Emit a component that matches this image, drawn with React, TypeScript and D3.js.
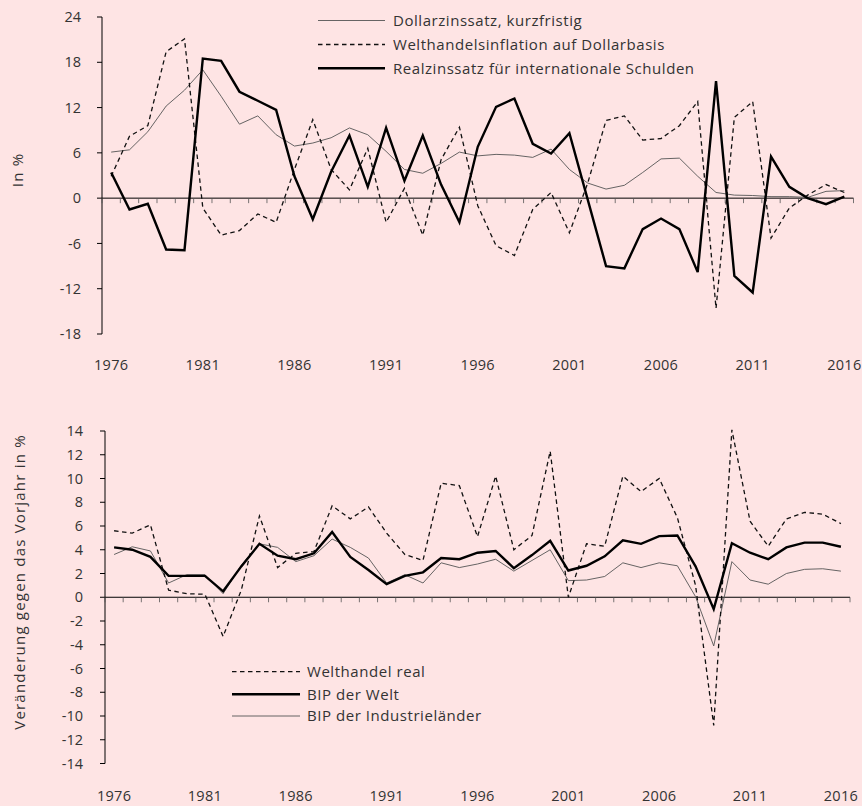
import React from "react";
import * as d3 from "d3";

const years = [1976,1977,1978,1979,1980,1981,1982,1983,1984,1985,1986,1987,1988,1989,1990,1991,1992,1993,1994,1995,1996,1997,1998,1999,2000,2001,2002,2003,2004,2005,2006,2007,2008,2009,2010,2011,2012,2013,2014,2015,2016];
const xTickYears = [1976,1981,1986,1991,1996,2001,2006,2011,2016];

const topTicks = [-18,-12,-6,0,6,12,18,24];
const bottomTicks = [-14,-12,-10,-8,-6,-4,-2,0,2,4,6,8,10,12,14];

const dollarRate = [6.1,6.4,8.8,12.2,14.3,17.0,13.5,9.8,10.9,8.4, 6.9,7.3,8.0,9.3,8.4,6.2,3.8,3.3,4.6,6.1, 5.6,5.8,5.7,5.4,6.5,3.8,2.0,1.2,1.7,3.4, 5.2,5.3,2.9,0.75,0.4,0.35,0.2,0.2,0.1,0.9,1.0];
const tradeInflation = [2.9,8.2,9.6,19.4,21.1,-1.3,-4.9,-4.3,-2.1,-3.2, 3.8,10.4,3.8,1.1,6.6,-3.2,1.3,-4.9,5.1,9.4, -1.0,-6.3,-7.6,-1.5,0.75,-4.6,2.0,10.3,10.9,7.7, 7.9,9.6,12.8,-14.6,10.7,12.8,-5.3,-1.3,0.4,1.8,0.75];
const realRate = [3.4,-1.5,-0.75,-6.8,-6.9,18.5,18.2,14.1,12.9,11.7, 2.9,-2.8,3.5,8.3,1.5,9.3,2.3,8.3,1.8,-3.2, 6.8,12.1,13.2,7.2,5.9,8.6,-0.2,-9.0,-9.3,-4.1, -2.7,-4.1,-9.8,15.5,-10.3,-12.5,5.5,1.5,0,-0.8,0.2];

const worldTrade = [5.6,5.4,6.1,0.6,0.3,0.25,-3.3,0.6,6.85,2.5, 3.7,3.85,7.7,6.6,7.6,5.4,3.6,3.1,9.6,9.4, 5.1,10.2,4.0,5.2,12.3,0.0,4.5,4.3,10.2,8.9, 10.0,6.7,1.0,-10.8,14.1,6.4,4.3,6.6,7.15,7.0,6.2];
const worldGDP = [4.2,4.0,3.4,1.8,1.8,1.8,0.5,2.6,4.5,3.5, 3.2,3.7,5.5,3.4,2.3,1.1,1.8,2.1,3.3,3.2, 3.75,3.9,2.45,3.55,4.75,2.25,2.65,3.45,4.8,4.5, 5.15,5.2,2.6,-1.0,4.55,3.75,3.2,4.2,4.6,4.6,4.25];
const advGDP = [3.6,4.25,3.9,1.2,1.9,1.9,0.3,2.7,4.5,4.2, 3.0,3.5,4.9,4.2,3.3,1.2,1.9,1.2,2.9,2.5, 2.8,3.2,2.2,3.1,4.0,1.4,1.45,1.75,2.9,2.5, 2.9,2.65,0.05,-4.1,3.0,1.45,1.1,2.0,2.35,2.4,2.2];

const topLegend = ["Dollarzinssatz, kurzfristig", "Welthandelsinflation auf Dollarbasis", "Realzinssatz für internationale Schulden"];
const bottomLegend = ["Welthandel real", "BIP der Welt", "BIP der Industrieländer"];

const FONT = "'Open Sans', Lato, sans-serif";
const TXT = "#333";

type Style = { width: number; color: string; dash?: string };
const thin: Style = { width: 0.9, color: "#555" };
const dashed: Style = { width: 1.3, color: "#111", dash: "4.5,3.5" };
const thick: Style = { width: 2.4, color: "#000" };

function Panel(props: {
  x0: number; x1: number; yTop: number; yBot: number; domain: [number, number];
  ticks: number[]; series: { values: number[]; style: Style }[];
  labelBaseline: number; tickLabelRight: number;
  yTitle: string; yTitleX: number; yTitleY: number;
  legend: string[]; legendStyles: Style[]; legX0: number; legX1: number; legTextX: number; legY: number[];
}) {
  const x = d3.scaleBand<number>().domain(years).range([props.x0, props.x1]).padding(0);
  const y = d3.scaleLinear().domain(props.domain).range([props.yBot, props.yTop]);
  const cx = (yr: number) => (x(yr) as number) + x.bandwidth() / 2;
  const line = d3.line<number>().x((_, i) => cx(years[i])).y((v) => y(v));
  const bounds = years.map((yr) => x(yr) as number).concat([props.x1]);
  return (
    <g fontFamily={FONT} fill={TXT}>
      <line x1={props.x0} x2={props.x0} y1={y(props.domain[1])} y2={y(props.domain[0])} stroke="#000" strokeWidth={1} />
      {props.ticks.map((t) => (
        <g key={t}>
          <line x1={props.x0 - 5} x2={props.x0} y1={y(t)} y2={y(t)} stroke="#000" strokeWidth={1} />
          <text x={props.tickLabelRight} y={y(t)} dy="0.35em" textAnchor="end" fontSize={14.5}>{t}</text>
        </g>
      ))}
      <line x1={props.x0} x2={props.x1} y1={y(0)} y2={y(0)} stroke="#000" strokeWidth={1} />
      {bounds.map((b, i) => (
        <line key={i} x1={b} x2={b} y1={y(0)} y2={y(0) + 5} stroke="#555" strokeWidth={0.8} />
      ))}
      {xTickYears.map((yr) => (
        <text key={yr} x={cx(yr)} y={props.labelBaseline} textAnchor="middle" fontSize={14.5} letterSpacing={0.3}>{yr}</text>
      ))}
      <text transform={`translate(${props.yTitleX},${props.yTitleY}) rotate(-90)`} textAnchor="middle" fontSize={15} letterSpacing={1.2} dy="0.35em">{props.yTitle}</text>
      {props.series.map((s, i) => (
        <path key={i} d={line(s.values) as string} fill="none" stroke={s.style.color} strokeWidth={s.style.width}
          strokeDasharray={s.style.dash} strokeLinejoin="miter" />
      ))}
      {props.legend.map((l, i) => (
        <g key={l}>
          <line x1={props.legX0} x2={props.legX1} y1={props.legY[i]} y2={props.legY[i]} stroke={props.legendStyles[i].color}
            strokeWidth={props.legendStyles[i].width} strokeDasharray={props.legendStyles[i].dash} />
          <text x={props.legTextX} y={props.legY[i]} dy="0.35em" fontSize={15} letterSpacing={0.55}>{l}</text>
        </g>
      ))}
    </g>
  );
}

export default function App() {
  return (
    <svg width={862} height={806} style={{ position: "fixed", left: 0, top: 0, background: "#fee4e4" }}>
      <rect x={0} y={0} width={862} height={806} fill="#fee4e4" />
      <Panel x0={102} x1={853.5} yTop={17} yBot={334} domain={[-18, 24]} ticks={topTicks}
        series={[{ values: dollarRate, style: thin }, { values: tradeInflation, style: dashed }, { values: realRate, style: thick }]}
        labelBaseline={370} tickLabelRight={81}
        yTitle="In %" yTitleX={18} yTitleY={170}
        legend={topLegend} legendStyles={[thin, dashed, thick]} legX0={318} legX1={385} legTextX={393} legY={[20.5, 44.5, 68.3]} />
      <Panel x0={105} x1={850} yTop={431} yBot={763.5} domain={[-14, 14]} ticks={bottomTicks}
        series={[{ values: advGDP, style: thin }, { values: worldTrade, style: dashed }, { values: worldGDP, style: thick }]}
        labelBaseline={801} tickLabelRight={83}
        yTitle="Veränderung gegen das Vorjahr in %" yTitleX={20} yTitleY={582}
        legend={bottomLegend} legendStyles={[dashed, thick, thin]} legX0={232} legX1={300} legTextX={307} legY={[671.7, 694.3, 716]} />
    </svg>
  );
}
